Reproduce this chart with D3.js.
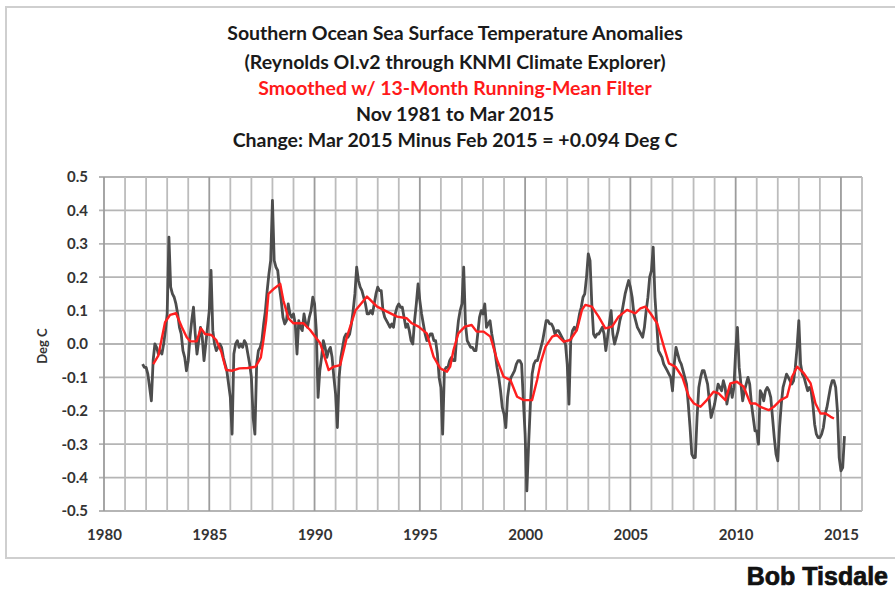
<!DOCTYPE html>
<html>
<head>
<meta charset="utf-8">
<script src="https://cdn.jsdelivr.net/npm/d3@7"></script>
<style>
  body { margin: 0; background: #fff; }
  svg text { font-family: Lato, "Noto Sans", sans-serif; font-weight: bold; }
</style>
</head>
<body>
<svg width="895" height="593"></svg>
<script>
const titleLines = [
  "Southern Ocean Sea Surface Temperature Anomalies",
  "(Reynolds OI.v2 through KNMI Climate Explorer)",
  "Smoothed w/ 13-Month Running-Mean Filter",
  "Nov 1981 to Mar 2015",
  "Change: Mar 2015 Minus Feb 2015 = +0.094 Deg C"
];
const titleColors = ["#1a1a1a", "#1a1a1a", "#ff1a1a", "#1a1a1a", "#1a1a1a"];
const yearTicks = [1980, 1985, 1990, 1995, 2000, 2005, 2010, 2015];
const valueTicks = [-0.5, -0.4, -0.3, -0.2, -0.1, 0.0, 0.1, 0.2, 0.3, 0.4, 0.5];
const yLabel = "Deg C";
const credit = "Bob Tisdale";

// monthly anomalies, Nov 1981 .. Mar 2015 (one row per year)
const firstYear = 1981, firstMonth = 11;
const anomalies = [
  -0.06, -0.07,
  -0.07, -0.09, -0.13, -0.17, -0.05, 0.00, -0.01, -0.03, -0.02, -0.03, 0.00, 0.04,
  0.09, 0.32, 0.17, 0.15, 0.14, 0.12, 0.09, 0.05, 0.03, -0.02, -0.04, -0.08,
  -0.05, 0.02, 0.07, 0.11, 0.03, -0.03, 0.01, 0.05, 0.02, -0.05, 0.00, 0.05,
  0.10, 0.22, 0.04, 0.00, -0.02, -0.01, 0.00, -0.01, -0.04, -0.06, -0.08, -0.12,
  -0.16, -0.27, -0.03, 0.00, 0.01, -0.01, 0.00, -0.01, 0.01, 0.00, -0.03, -0.06,
  -0.10, -0.22, -0.27, -0.06, -0.02, -0.01, 0.01, 0.06, 0.10, 0.16, 0.21, 0.25,
  0.43, 0.25, 0.23, 0.22, 0.17, 0.13, 0.08, 0.06, 0.07, 0.12, 0.09, 0.08,
  0.09, 0.06, -0.03, 0.07, 0.05, 0.04, 0.09, 0.06, 0.05, 0.08, 0.10, 0.14,
  0.12, 0.04, -0.16, -0.08, -0.04, 0.01, -0.01, -0.04, -0.02, -0.01, -0.04, -0.10,
  -0.15, -0.25, -0.10, -0.04, -0.01, 0.02, 0.03, 0.02, 0.03, 0.06, 0.10, 0.15,
  0.23, 0.19, 0.17, 0.16, 0.14, 0.12, 0.09, 0.09, 0.10, 0.09, 0.12, 0.15,
  0.17, 0.16, 0.16, 0.10, 0.08, 0.07, 0.06, 0.05, 0.06, 0.05, 0.09, 0.11,
  0.12, 0.11, 0.11, 0.08, 0.05, 0.06, 0.04, 0.01, 0.00, 0.07, 0.12, 0.18,
  0.13, 0.09, 0.06, 0.03, 0.01, 0.02, 0.03, 0.03, 0.01, 0.01, -0.03, -0.10,
  -0.13, -0.27, -0.08, -0.07, -0.07, -0.05, -0.04, -0.05, -0.05, 0.02, 0.07, 0.10,
  0.12, 0.23, 0.06, 0.01, 0.00, -0.01, -0.01, -0.02, -0.02, 0.03, 0.08, 0.10,
  0.09, 0.12, 0.05, 0.06, 0.07, 0.03, 0.00, -0.03, -0.07, -0.10, -0.14, -0.19,
  -0.21, -0.25, -0.16, -0.12, -0.10, -0.09, -0.08, -0.06, -0.05, -0.05, -0.06, -0.17,
  -0.27, -0.44, -0.30, -0.18, -0.09, -0.06, -0.05, -0.05, -0.03, -0.01, 0.01, 0.04,
  0.07, 0.07, 0.06, 0.06, 0.05, 0.03, 0.04, 0.04, 0.03, 0.02, 0.01, 0.00,
  -0.06, -0.18, 0.01, 0.04, 0.05, 0.04, 0.06, 0.09, 0.11, 0.14, 0.15, 0.20,
  0.27, 0.25, 0.12, 0.03, 0.02, 0.03, 0.03, 0.04, 0.05, 0.03, -0.02, 0.02,
  0.06, 0.10, 0.03, 0.00, 0.02, 0.04, 0.07, 0.09, 0.12, 0.15, 0.17, 0.19,
  0.17, 0.14, 0.09, 0.07, 0.05, 0.04, 0.03, 0.02, 0.05, 0.10, 0.14, 0.20,
  0.22, 0.29, 0.14, 0.06, -0.02, -0.03, -0.04, -0.06, -0.07, -0.08, -0.09, -0.10,
  -0.14, -0.06, -0.01, -0.03, -0.05, -0.06, -0.08, -0.10, -0.12, -0.18, -0.25, -0.33,
  -0.34, -0.34, -0.22, -0.13, -0.10, -0.08, -0.08, -0.10, -0.12, -0.17, -0.22, -0.20,
  -0.18, -0.15, -0.12, -0.13, -0.14, -0.11, -0.13, -0.18, -0.15, -0.12, -0.16, -0.13,
  -0.02, 0.05, -0.07, -0.12, -0.17, -0.14, -0.12, -0.10, -0.12, -0.18, -0.22, -0.26,
  -0.26, -0.30, -0.14, -0.15, -0.17, -0.14, -0.13, -0.14, -0.16, -0.22, -0.28, -0.33,
  -0.35, -0.25, -0.18, -0.13, -0.11, -0.09, -0.10, -0.11, -0.12, -0.11, -0.07, -0.01,
  0.07, -0.06, -0.09, -0.10, -0.12, -0.14, -0.13, -0.14, -0.18, -0.24, -0.27, -0.28,
  -0.28, -0.27, -0.25, -0.21, -0.19, -0.16, -0.13, -0.11, -0.11, -0.13, -0.20, -0.34,
  -0.38, -0.37, -0.276
];

// 13-month running mean
const smoothYears = [
  1982.34, 1982.58, 1982.66, 1982.9, 1983.14, 1983.42, 1983.7, 1983.93, 1984.1, 1984.4,
  1984.6, 1984.8, 1985.1, 1985.33, 1985.57, 1985.8, 1986.1, 1986.43, 1986.82, 1987.2,
  1987.45, 1987.57, 1987.7, 1987.81, 1988.1, 1988.37, 1988.52, 1988.76, 1989.0, 1989.48,
  1989.79, 1990.27, 1990.67, 1990.9, 1991.22, 1991.54, 1991.94, 1992.49, 1992.97, 1993.44,
  1993.92, 1994.38, 1994.62, 1994.94, 1995.33, 1995.65, 1995.97, 1996.29, 1996.44, 1996.6,
  1996.83, 1997.14, 1997.46, 1997.7, 1998.03, 1998.35, 1998.67, 1998.98, 1999.3, 1999.62,
  1999.94, 2000.33, 2000.57, 2000.73, 2000.97, 2001.29, 2001.51, 2001.83, 2002.14, 2002.46,
  2002.7, 2002.86, 2003.17, 2003.49, 2003.81, 2004.13, 2004.44, 2004.84, 2005.24, 2005.48,
  2005.71, 2005.95, 2006.27, 2006.59, 2006.83, 2007.14, 2007.46, 2007.78, 2008.02, 2008.33,
  2008.63, 2008.95, 2009.19, 2009.51, 2009.75, 2010.06, 2010.38, 2010.7, 2010.94, 2011.17,
  2011.57, 2011.81, 2012.13, 2012.44, 2012.68, 2012.92, 2013.24, 2013.56, 2013.79, 2014.03,
  2014.27, 2014.51, 2014.67
];
const smoothValues = [
  -0.06, -0.035, -0.01, 0.065, 0.087, 0.092, 0.05, 0.02, 0.008, 0.008,
  0.047, 0.03, 0.027, 0.012, -0.023, -0.078, -0.08, -0.073, -0.072, -0.068,
  -0.04, 0.01, 0.07, 0.15, 0.167, 0.18, 0.13, 0.077, 0.062, 0.062,
  0.042, 0.002, -0.078, -0.068, -0.063, 0.022, 0.10, 0.142, 0.112, 0.097,
  0.082, 0.077, 0.062, 0.052, 0.032, -0.038, -0.073, -0.083, -0.068, -0.018,
  0.032, 0.052, 0.057, 0.037, 0.037, 0.022, -0.048, -0.098, -0.108, -0.158,
  -0.168, -0.168, -0.108, -0.058, -0.008, 0.022, 0.027, 0.007, 0.012, 0.042,
  0.102, 0.117, 0.112, 0.082, 0.047, 0.052, 0.082, 0.102, 0.092, 0.107,
  0.112, 0.092, 0.062, -0.008, -0.058, -0.068, -0.098, -0.158, -0.178, -0.188,
  -0.168, -0.143, -0.148, -0.168, -0.118, -0.113, -0.128, -0.178, -0.178, -0.188,
  -0.198, -0.188, -0.168, -0.158, -0.098, -0.068, -0.088, -0.118, -0.178, -0.208,
  -0.208, -0.218, -0.223
];

function drawChart() {
  let svg = d3.select("svg"),
    left = 104, right = 862, top = 177, bottom = 511;

  let x = d3.scaleLinear().domain([1980, 2016]).range([left, right]);
  let y = d3.scaleLinear().domain([-0.5, 0.5]).range([bottom, top]);

  // outer chart frame (runs off the right edge like the source)
  svg.append("rect")
    .attr("x", 6).attr("y", 7)
    .attr("width", 930).attr("height", 551)
    .attr("fill", "none")
    .attr("stroke", "#cfcfcf")
    .attr("stroke-width", 2);

  // titles
  svg.append("g")
    .selectAll("text")
    .data(titleLines)
    .enter().append("text")
    .attr("x", 455)
    .attr("y", (d, i) => [33, 62, 88, 114, 140][i])
    .attr("dy", "0.35em")
    .attr("text-anchor", "middle")
    .style("font-size", "19.5px")
    .style("fill", (d, i) => titleColors[i])
    .text(d => d);

  // grid
  let grid = svg.append("g").attr("class", "grid");
  grid.selectAll("line.h")
    .data(valueTicks)
    .enter().append("line")
    .attr("x1", left - 5).attr("x2", right)
    .attr("y1", d => y(d)).attr("y2", d => y(d))
    .attr("stroke", "#b5b5b5")
    .attr("stroke-width", 1.8);

  grid.selectAll("line.v")
    .data(d3.range(1980, 2017))
    .enter().append("line")
    .attr("x1", d => x(d)).attr("x2", d => x(d))
    .attr("y1", top).attr("y2", bottom)
    .attr("stroke", d => d % 5 === 0 ? "#9c9c9c" : "#bcbcbc")
    .attr("stroke-width", 1.8);

  // axes labels
  let yAxis = d3.axisLeft(y)
    .tickValues(valueTicks)
    .tickSize(0)
    .tickPadding(16)
    .tickFormat(d => d.toFixed(1));
  svg.append("g")
    .attr("transform", "translate(" + left + ",0)")
    .call(yAxis)
    .call(g => g.select(".domain").remove())
    .selectAll("text")
    .style("font-size", "15px")
    .style("fill", "#333");

  let xAxis = d3.axisBottom(x)
    .tickValues(yearTicks)
    .tickSize(0)
    .tickPadding(18)
    .tickFormat(d3.format("d"));
  svg.append("g")
    .attr("transform", "translate(0," + bottom + ")")
    .call(xAxis)
    .call(g => g.select(".domain").remove())
    .selectAll("text")
    .style("font-size", "15px")
    .style("fill", "#333");

  svg.append("text")
    .attr("transform", "translate(47,346) rotate(-90)")
    .attr("text-anchor", "middle")
    .style("font-size", "13px")
    .style("fill", "#333")
    .text(yLabel);

  // series
  let monthly = anomalies.map((v, i) => ({
    t: firstYear + (firstMonth - 1 + i) / 12,
    v: v
  }));
  let line = d3.line()
    .x(d => x(d.t))
    .y(d => y(d.v));

  svg.append("path")
    .datum(monthly)
    .attr("d", line)
    .attr("fill", "none")
    .attr("stroke", "#4d4d4d")
    .attr("stroke-width", 2.8)
    .attr("stroke-linejoin", "round");

  let smooth = smoothYears.map((t, i) => ({ t: t, v: smoothValues[i] }));
  svg.append("path")
    .datum(smooth)
    .attr("d", line)
    .attr("fill", "none")
    .attr("stroke", "#ff1f1f")
    .attr("stroke-width", 2.4)
    .attr("stroke-linejoin", "round");

  svg.append("text")
    .attr("x", 888)
    .attr("y", 585)
    .attr("text-anchor", "end")
    .style("font-family", "'Liberation Sans', Arial, sans-serif")
    .style("font-size", "25px")
    .style("fill", "#111")
    .style("stroke", "#111")
    .style("stroke-width", 0.7)
    .text(credit);
}

drawChart();
</script>
</body>
</html>
